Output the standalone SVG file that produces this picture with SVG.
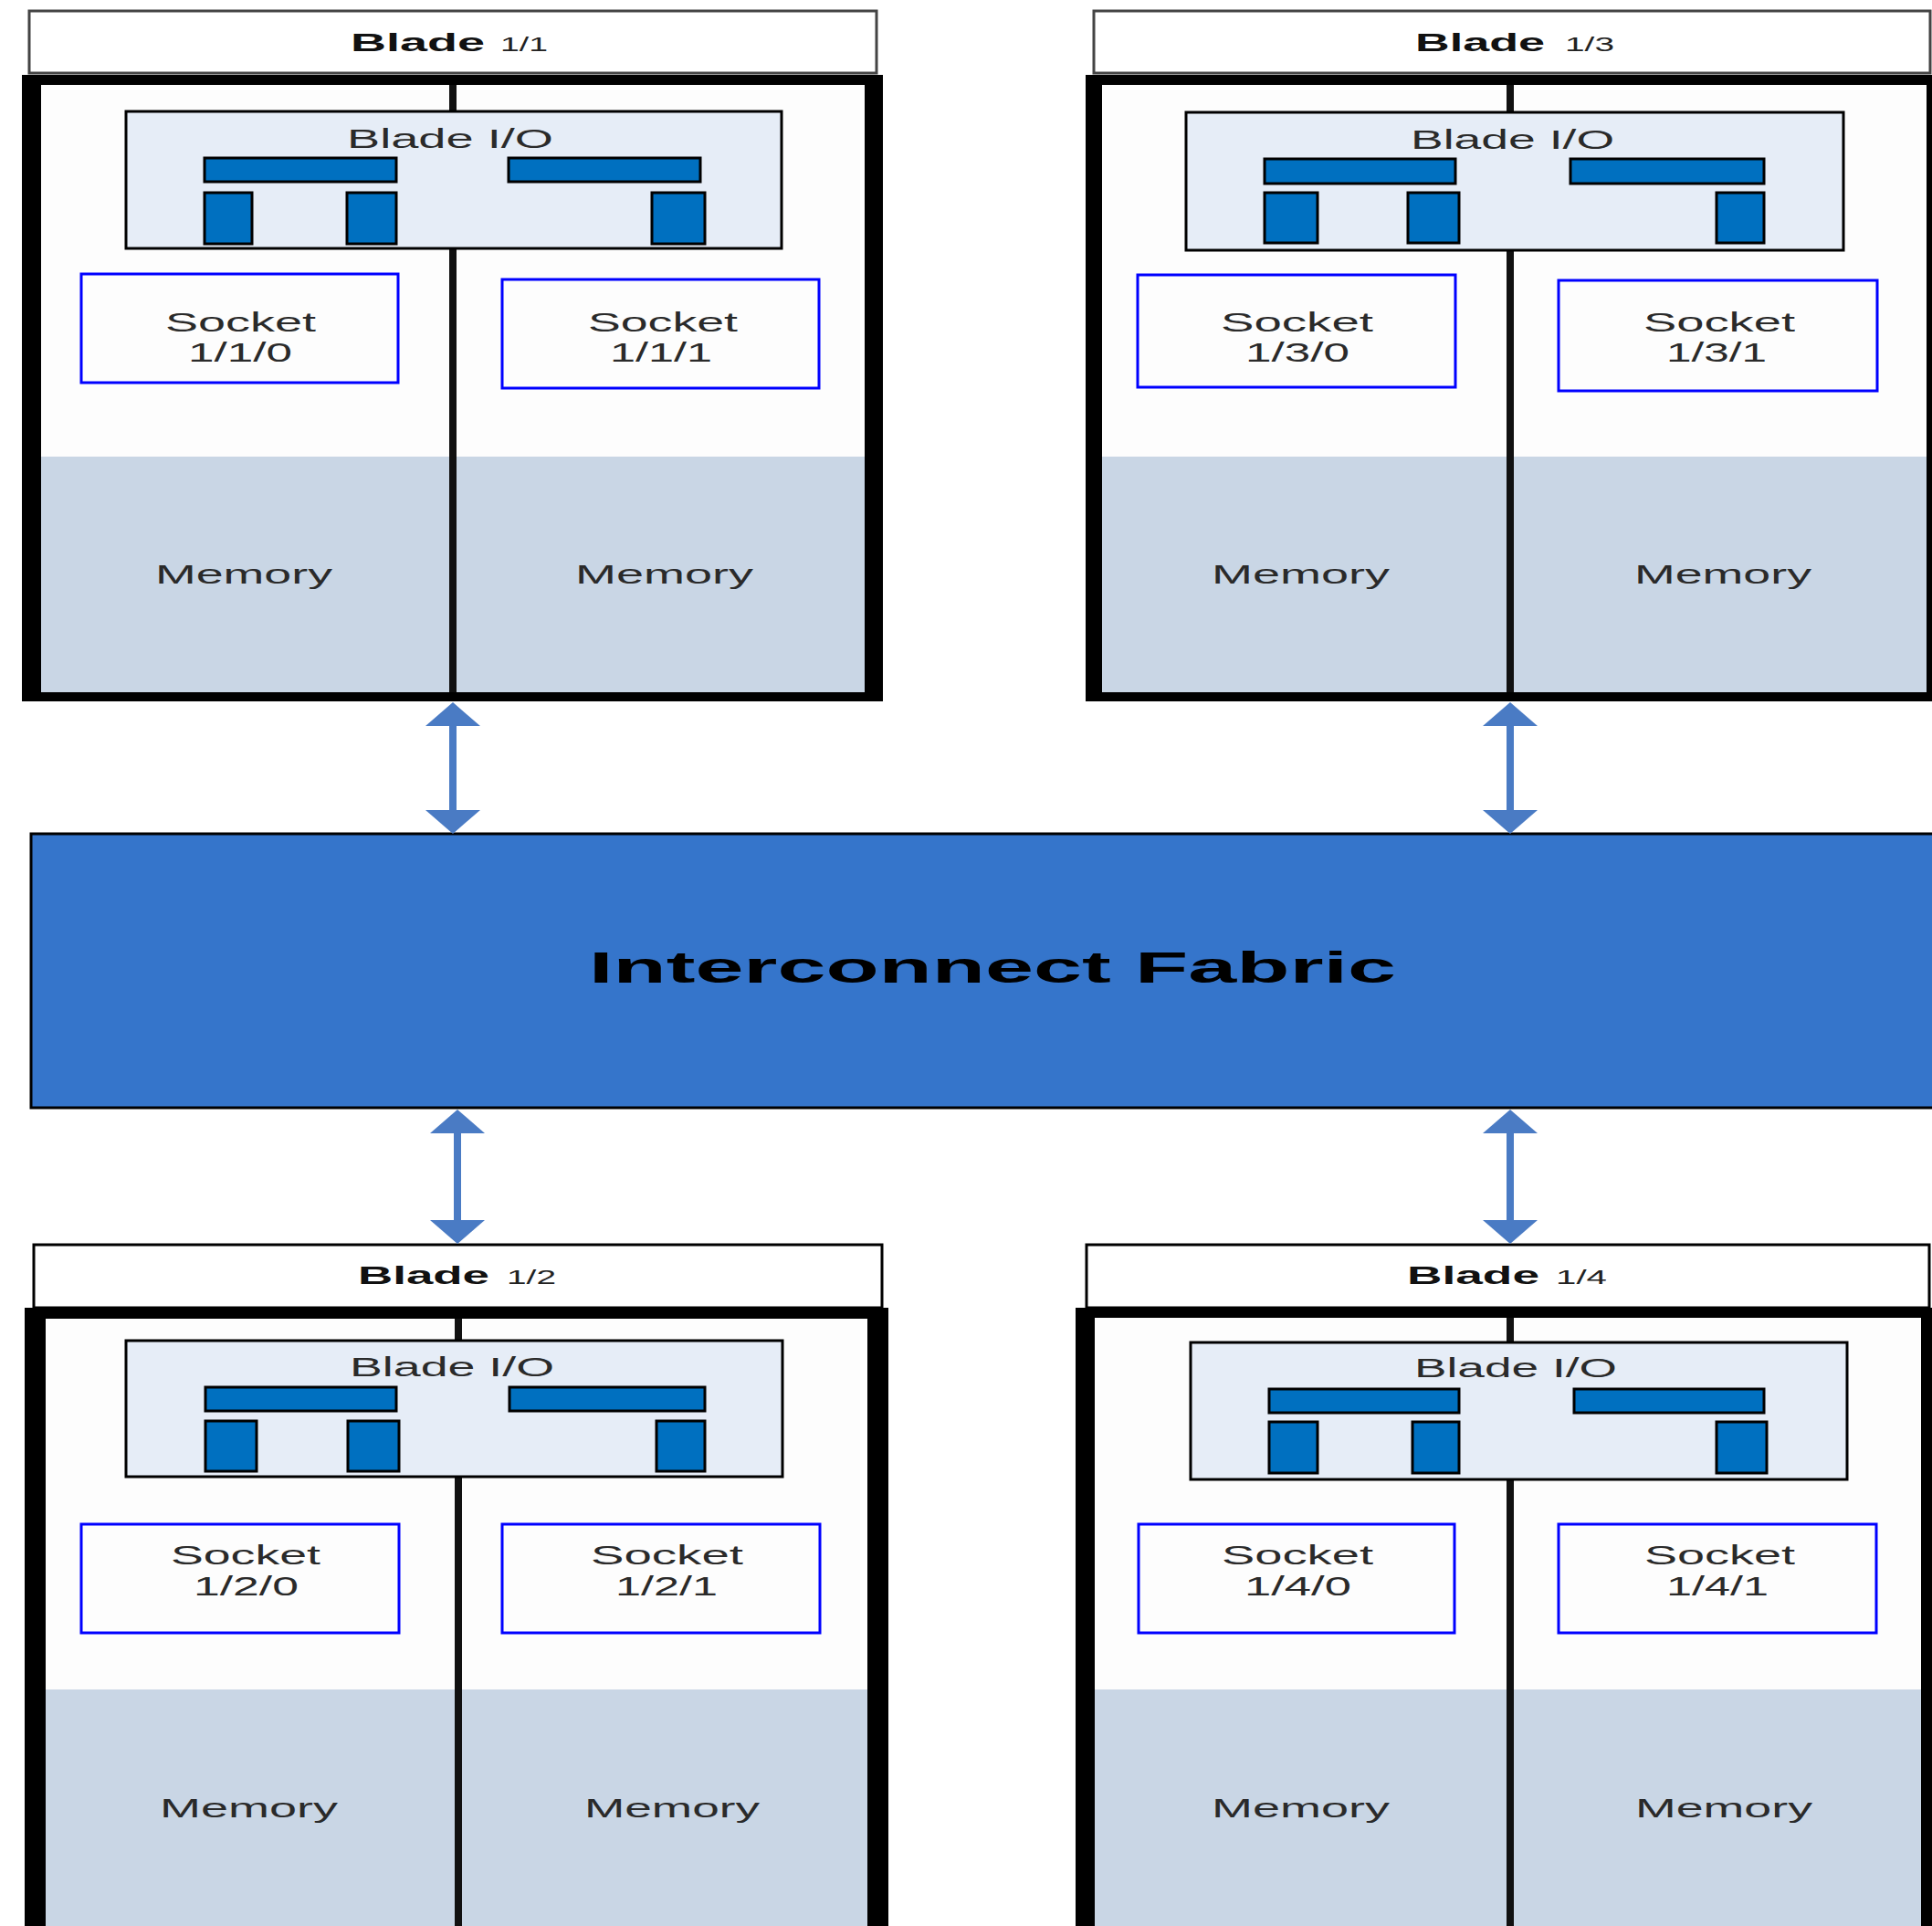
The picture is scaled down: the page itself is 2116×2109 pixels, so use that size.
<svg xmlns="http://www.w3.org/2000/svg" width="2116" height="2109" viewBox="0 0 2116 2109">
<defs>
<style>
.hdr{fill:#ffffff;stroke:#444;stroke-width:3}
.hdrb{fill:#ffffff;stroke:#000;stroke-width:3}
.frame{fill:#000}
.upper{fill:#fdfdfd}
.mem{fill:#c9d6e5}
.div{fill:#111}
.io{fill:#e6edf7;stroke:#000;stroke-width:3}
.port{fill:#0070c0;stroke:#000;stroke-width:3}
.sock{fill:#fdfdfd;stroke:#0000ff;stroke-width:3}
.t{font-family:"Liberation Sans",Arial,sans-serif;font-size:30px;fill:#2a2a2a}
.hb{font-family:"Liberation Sans",Arial,sans-serif;font-size:27px;font-weight:bold;fill:#111}
.hn{font-family:"Liberation Sans",Arial,sans-serif;font-size:22px;fill:#222}
.fab{fill:#3575cb;stroke:#000;stroke-width:3}
.fabt{font-family:"Liberation Sans",Arial,sans-serif;font-size:48px;font-weight:bold;fill:#000}
.arr{stroke:#4a7bc4;stroke-width:8;fill:none;marker-start:url(#ah);marker-end:url(#ah)}
</style>
<marker id="ah" viewBox="0 0 26 60" refX="6" refY="30" markerWidth="26" markerHeight="60" markerUnits="userSpaceOnUse" orient="auto-start-reverse">
<path d="M0,0 L26,30 L0,60 Z" fill="#4a7bc4"/>
</marker>
</defs>
<rect width="2116" height="2109" fill="#ffffff"/>

<g id="blade-1-1">
<rect class="hdr" x="32" y="12" width="928" height="68"/>
<text class="hb" x="384" y="56" textLength="147" lengthAdjust="spacingAndGlyphs">Blade</text>
<text class="hn" x="548" y="56" textLength="52" lengthAdjust="spacingAndGlyphs">1/1</text>
<rect class="frame" x="24" y="82" width="943" height="686"/>
<rect class="upper" x="45" y="93" width="902" height="407"/>
<rect class="mem" x="45" y="500" width="902" height="258"/>
<rect class="div" x="492" y="93" width="8" height="665"/>
<rect class="io" x="138" y="122" width="718" height="150"/>
<text class="t" x="380" y="162" textLength="226" lengthAdjust="spacingAndGlyphs">Blade I/O</text>
<rect class="port" x="224" y="173" width="210" height="26"/>
<rect class="port" x="557" y="173" width="210" height="26"/>
<rect class="port" x="224" y="211" width="52" height="56"/>
<rect class="port" x="380" y="211" width="54" height="56"/>
<rect class="port" x="714" y="211" width="58" height="56"/>
<rect class="sock" x="89" y="300" width="347" height="119"/>
<text class="t" x="181" y="363" textLength="165" lengthAdjust="spacingAndGlyphs">Socket</text>
<text class="t" x="206" y="396" textLength="114" lengthAdjust="spacingAndGlyphs">1/1/0</text>
<rect class="sock" x="550" y="306" width="347" height="119"/>
<text class="t" x="644" y="363" textLength="164" lengthAdjust="spacingAndGlyphs">Socket</text>
<text class="t" x="668" y="396" textLength="112" lengthAdjust="spacingAndGlyphs">1/1/1</text>
<text class="t" x="170" y="639" textLength="194" lengthAdjust="spacingAndGlyphs">Memory</text>
<text class="t" x="630" y="639" textLength="195" lengthAdjust="spacingAndGlyphs">Memory</text>
</g>

<g id="blade-1-3">
<rect class="hdr" x="1198" y="12" width="916" height="68"/>
<text class="hb" x="1550" y="56" textLength="142" lengthAdjust="spacingAndGlyphs">Blade</text>
<text class="hn" x="1714" y="56" textLength="54" lengthAdjust="spacingAndGlyphs">1/3</text>
<rect class="frame" x="1189" y="82" width="940" height="686"/>
<rect class="upper" x="1207" y="93" width="903" height="407"/>
<rect class="mem" x="1207" y="500" width="903" height="258"/>
<rect class="div" x="1650" y="93" width="8" height="665"/>
<rect class="io" x="1299" y="123" width="720" height="151"/>
<text class="t" x="1545" y="163" textLength="223" lengthAdjust="spacingAndGlyphs">Blade I/O</text>
<rect class="port" x="1385" y="174" width="209" height="27"/>
<rect class="port" x="1720" y="174" width="212" height="27"/>
<rect class="port" x="1385" y="211" width="58" height="55"/>
<rect class="port" x="1542" y="211" width="56" height="55"/>
<rect class="port" x="1880" y="211" width="52" height="55"/>
<rect class="sock" x="1246" y="301" width="348" height="123"/>
<text class="t" x="1337" y="363" textLength="167" lengthAdjust="spacingAndGlyphs">Socket</text>
<text class="t" x="1364" y="396" textLength="114" lengthAdjust="spacingAndGlyphs">1/3/0</text>
<rect class="sock" x="1707" y="307" width="349" height="121"/>
<text class="t" x="1800" y="363" textLength="166" lengthAdjust="spacingAndGlyphs">Socket</text>
<text class="t" x="1825" y="396" textLength="110" lengthAdjust="spacingAndGlyphs">1/3/1</text>
<text class="t" x="1327" y="639" textLength="195" lengthAdjust="spacingAndGlyphs">Memory</text>
<text class="t" x="1790" y="639" textLength="194" lengthAdjust="spacingAndGlyphs">Memory</text>
</g>

<g id="interconnect-fabric">
<rect class="fab" x="34" y="913" width="2090" height="300"/>
<text class="fabt" x="645" y="1076" textLength="884" lengthAdjust="spacingAndGlyphs">Interconnect Fabric</text>
</g>

<g id="blade-1-2">
<rect class="hdrb" x="37" y="1363" width="929" height="69"/>
<text class="hb" x="392" y="1406" textLength="144" lengthAdjust="spacingAndGlyphs">Blade</text>
<text class="hn" x="555" y="1406" textLength="54" lengthAdjust="spacingAndGlyphs">1/2</text>
<rect class="frame" x="27" y="1432" width="946" height="700"/>
<rect class="upper" x="50" y="1444" width="900" height="406"/>
<rect class="mem" x="50" y="1850" width="900" height="270"/>
<rect class="div" x="498" y="1444" width="8" height="680"/>
<rect class="io" x="138" y="1468" width="719" height="149"/>
<text class="t" x="383" y="1507" textLength="224" lengthAdjust="spacingAndGlyphs">Blade I/O</text>
<rect class="port" x="225" y="1519" width="209" height="26"/>
<rect class="port" x="558" y="1519" width="214" height="26"/>
<rect class="port" x="225" y="1556" width="56" height="55"/>
<rect class="port" x="381" y="1556" width="56" height="55"/>
<rect class="port" x="719" y="1556" width="53" height="55"/>
<rect class="sock" x="89" y="1669" width="348" height="119"/>
<text class="t" x="187" y="1713" textLength="164" lengthAdjust="spacingAndGlyphs">Socket</text>
<text class="t" x="212" y="1747" textLength="115" lengthAdjust="spacingAndGlyphs">1/2/0</text>
<rect class="sock" x="550" y="1669" width="348" height="119"/>
<text class="t" x="647" y="1713" textLength="167" lengthAdjust="spacingAndGlyphs">Socket</text>
<text class="t" x="674" y="1747" textLength="112" lengthAdjust="spacingAndGlyphs">1/2/1</text>
<text class="t" x="175" y="1990" textLength="195" lengthAdjust="spacingAndGlyphs">Memory</text>
<text class="t" x="640" y="1990" textLength="192" lengthAdjust="spacingAndGlyphs">Memory</text>
</g>

<g id="blade-1-4">
<rect class="hdrb" x="1190" y="1363" width="923" height="69"/>
<text class="hb" x="1541" y="1406" textLength="145" lengthAdjust="spacingAndGlyphs">Blade</text>
<text class="hn" x="1704" y="1406" textLength="56" lengthAdjust="spacingAndGlyphs">1/4</text>
<rect class="frame" x="1178" y="1432" width="960" height="700"/>
<rect class="upper" x="1199" y="1443" width="905" height="407"/>
<rect class="mem" x="1199" y="1850" width="905" height="270"/>
<rect class="div" x="1650" y="1443" width="8" height="680"/>
<rect class="io" x="1304" y="1470" width="719" height="150"/>
<text class="t" x="1549" y="1508" textLength="222" lengthAdjust="spacingAndGlyphs">Blade I/O</text>
<rect class="port" x="1390" y="1521" width="208" height="26"/>
<rect class="port" x="1724" y="1521" width="208" height="26"/>
<rect class="port" x="1390" y="1557" width="53" height="56"/>
<rect class="port" x="1547" y="1557" width="51" height="56"/>
<rect class="port" x="1880" y="1557" width="55" height="56"/>
<rect class="sock" x="1247" y="1669" width="346" height="119"/>
<text class="t" x="1338" y="1713" textLength="166" lengthAdjust="spacingAndGlyphs">Socket</text>
<text class="t" x="1363" y="1747" textLength="117" lengthAdjust="spacingAndGlyphs">1/4/0</text>
<rect class="sock" x="1707" y="1669" width="348" height="119"/>
<text class="t" x="1801" y="1713" textLength="165" lengthAdjust="spacingAndGlyphs">Socket</text>
<text class="t" x="1825" y="1747" textLength="112" lengthAdjust="spacingAndGlyphs">1/4/1</text>
<text class="t" x="1327" y="1990" textLength="195" lengthAdjust="spacingAndGlyphs">Memory</text>
<text class="t" x="1791" y="1990" textLength="194" lengthAdjust="spacingAndGlyphs">Memory</text>
</g>

<g id="connectors">
<line class="arr" x1="496" y1="789" x2="496" y2="893"/>
<line class="arr" x1="1654" y1="789" x2="1654" y2="893"/>
<line class="arr" x1="501" y1="1235" x2="501" y2="1342"/>
<line class="arr" x1="1654" y1="1235" x2="1654" y2="1342"/>
</g>
</svg>
